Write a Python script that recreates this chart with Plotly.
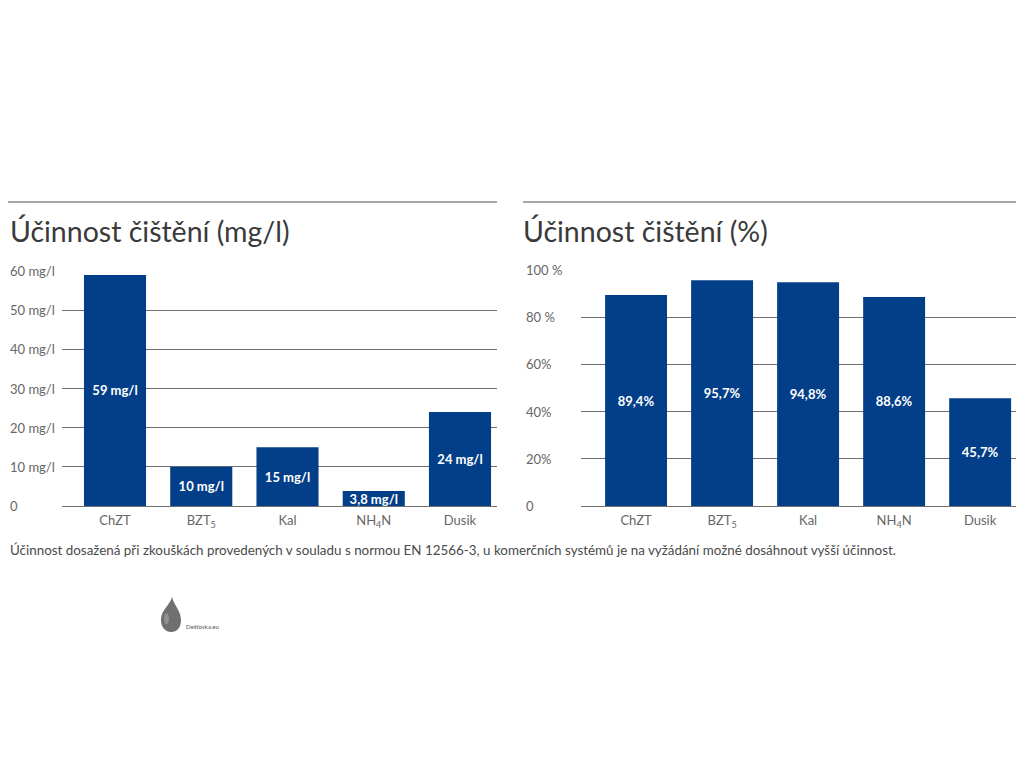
import plotly.graph_objects as go

# ---- data ----
categories = ["ChZT", "BZT<sub>5</sub>", "Kal", "NH<sub>4</sub>N", "Dusik"]
mg_values = [59, 10, 15, 3.8, 24]
pct_values = [89.4, 95.7, 94.8, 88.6, 45.7]
mg_tick_vals = [0, 10, 20, 30, 40, 50, 60]
mg_tick_text = ["0", "10 mg/l", "20 mg/l", "30 mg/l", "40 mg/l", "50 mg/l", "60 mg/l"]
pct_tick_vals = [0, 20, 40, 60, 80, 100]
pct_tick_text = ["0", "20%", "40%", "60%", "80 %", "100 %"]
title_left = "Účinnost čištění (mg/l)"
title_right = "Účinnost čištění (%)"
footnote = ("Účinnost dosažená při zkouškách provedených v souladu s normou EN 12566-3, "
            "u komerčních systémů je na vyžádání možné dosáhnout vyšší účinnost.")
logo_text = "Dešťovka.eu"

OFF = 8  # page body margin
W, H = 1024 - OFF, 768 - 2 * OFF
FONT = "Lato"
BAR = "#033f88"
GRID = "#707070"
TICK = "#666666"


def px(x):
    return min(1.0, max(0.0, (x - OFF) / W))


def py(y):
    return 1 - (y - OFF) / H


def fmt(v, unit):
    s = ("%g" % v).replace(".", ",")
    return s + unit


fig = go.Figure()
fig.add_trace(go.Bar(
    x=categories, y=mg_values, xaxis="x", yaxis="y",
    text=[fmt(v, " mg/l") for v in mg_values],
    textposition="inside", insidetextanchor="middle", constraintext="none",
    textfont=dict(color="white", size=13, family=FONT, weight="bold"),
    marker=dict(color=BAR, line=dict(width=0)), width=0.72, hoverinfo="skip",
))
fig.add_trace(go.Bar(
    x=categories, y=pct_values, xaxis="x2", yaxis="y2",
    text=[fmt(v, "%") for v in pct_values],
    textposition="inside", insidetextanchor="middle", constraintext="none",
    textfont=dict(color="white", size=13, family=FONT, weight="bold"),
    marker=dict(color=BAR, line=dict(width=0)), width=0.72, hoverinfo="skip",
))

axis_common = dict(showline=False, ticks="", tickfont=dict(color=TICK, size=13, family=FONT),
                   ticklabelstandoff=5, fixedrange=True)

fig.update_layout(
    width=W, height=H, margin=dict(l=0, r=0, t=0, b=0),
    paper_bgcolor="white", plot_bgcolor="white", showlegend=False,
    font=dict(family=FONT),
    xaxis=dict(domain=[px(62), px(497)], range=[-0.6145, 4.429], anchor="y",
               type="category", showgrid=False, **axis_common),
    yaxis=dict(domain=[py(506), py(271)], range=[0, 60], anchor="x",
               tickvals=mg_tick_vals, showticklabels=False, showgrid=True,
               gridcolor=GRID, gridwidth=1, zeroline=True, zerolinecolor=GRID,
               zerolinewidth=1, showline=False, ticks="", fixedrange=True),
    xaxis2=dict(domain=[px(581), px(1018)], range=[-0.64, 4.44], anchor="y2",
                type="category", showgrid=False, **axis_common),
    yaxis2=dict(domain=[py(506), py(270)], range=[0, 100], anchor="x2",
                tickvals=pct_tick_vals, showticklabels=False, showgrid=True,
                gridcolor=GRID, gridwidth=1, zeroline=True, zerolinecolor=GRID,
                zerolinewidth=1, showline=False, ticks="", fixedrange=True),
)

annotations = []
for v, t in zip(mg_tick_vals, mg_tick_text):
    annotations.append(dict(x=px(8), xref="paper", y=v, yref="y", text=t, showarrow=False,
                            xanchor="left", yanchor="middle",
                            font=dict(color=TICK, size=13, family=FONT)))
for v, t in zip(pct_tick_vals, pct_tick_text):
    annotations.append(dict(x=px(524), xref="paper", y=v, yref="y2", text=t, showarrow=False,
                            xanchor="left", yanchor="middle",
                            font=dict(color=TICK, size=13, family=FONT)))

annotations.append(dict(x=px(8), y=py(231), xref="paper", yref="paper", text=title_left,
                        showarrow=False, xanchor="left", yanchor="middle",
                        font=dict(color="#3a3a3a", size=28.5, family=FONT)))
annotations.append(dict(x=px(521), y=py(231), xref="paper", yref="paper", text=title_right,
                        showarrow=False, xanchor="left", yanchor="middle",
                        font=dict(color="#3a3a3a", size=28.5, family=FONT)))
annotations.append(dict(x=px(8), y=py(550), xref="paper", yref="paper", text=footnote,
                        showarrow=False, xanchor="left", yanchor="middle",
                        font=dict(color="#4a4a4a", size=13.4, family=FONT)))
annotations.append(dict(x=px(184), y=py(626), xref="paper", yref="paper", text=logo_text,
                        showarrow=False, xanchor="left", yanchor="middle",
                        font=dict(color="#555555", size=6, family=FONT)))
fig.update_layout(annotations=annotations)

shapes = [
    dict(type="line", xref="paper", yref="paper", x0=px(8), x1=px(497), y0=py(202), y1=py(202),
         line=dict(color="#a8a8a8", width=2)),
    dict(type="line", xref="paper", yref="paper", x0=px(523), x1=px(1018), y0=py(202), y1=py(202),
         line=dict(color="#a8a8a8", width=2)),
]

# logo drop
drop_pts = [("M", [(172, 597)]), ("C", [(170, 605), (161, 610), (161, 620)]),
            ("C", [(161, 628), (166, 632), (171, 632)]),
            ("C", [(177, 632), (181, 628), (181, 620)]),
            ("C", [(181, 611), (174, 605), (172, 597)])]
path = ""
for cmd, pts in drop_pts:
    path += cmd + " " + " ".join("%.5f,%.5f" % (px(a), py(b)) for a, b in pts) + " "
path += "Z"
shapes.append(dict(type="path", xref="paper", yref="paper", path=path,
                   fillcolor="#707070", line=dict(width=0)))
shapes.append(dict(type="circle", xref="paper", yref="paper", x0=px(164), x1=px(169),
                   y0=py(624), y1=py(613), fillcolor="#a0a0a0", line=dict(width=0), opacity=0.7))
fig.update_layout(shapes=shapes)

fig.write_html("out.html")
